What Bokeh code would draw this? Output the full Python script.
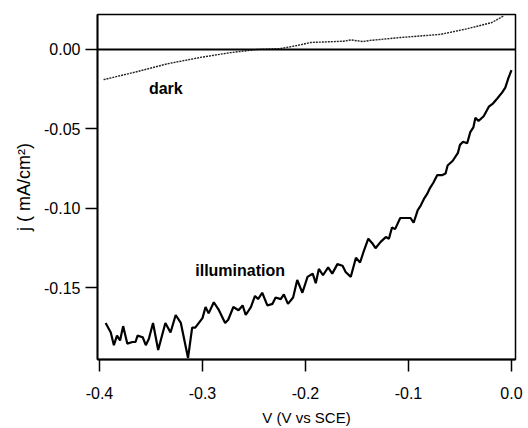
from bokeh.plotting import figure
from bokeh.models import Span, Label, FixedTicker, PrintfTickFormatter, Range1d
from bokeh.embed import file_html
from bokeh.resources import INLINE

# Illumination curve: potential (V vs SCE) and current density (mA/cm2)
ill_v = [-0.394, -0.389, -0.386, -0.383, -0.380, -0.377, -0.373, -0.368, -0.365, -0.363,
         -0.358, -0.355, -0.352, -0.348, -0.343, -0.336, -0.331, -0.326, -0.321, -0.314,
         -0.310, -0.307, -0.300, -0.297, -0.294, -0.289, -0.284, -0.278, -0.275, -0.270,
         -0.265, -0.261, -0.258, -0.253, -0.249, -0.246, -0.242, -0.237, -0.232, -0.229,
         -0.224, -0.221, -0.217, -0.212, -0.208, -0.203, -0.198, -0.193, -0.190, -0.187,
         -0.183, -0.178, -0.174, -0.169, -0.164, -0.161, -0.156, -0.151, -0.147, -0.144,
         -0.139, -0.135, -0.132, -0.127, -0.122, -0.119, -0.116, -0.113, -0.108, -0.103,
         -0.098, -0.095, -0.091, -0.088, -0.085, -0.082, -0.079, -0.076, -0.072, -0.067,
         -0.064, -0.062, -0.057, -0.052, -0.050, -0.047, -0.043, -0.040, -0.037, -0.035,
         -0.032, -0.027, -0.022, -0.018, -0.014, -0.009, -0.006, -0.003, 0.000]
ill_j = [-0.172, -0.178, -0.186, -0.180, -0.183, -0.174, -0.185, -0.184, -0.184, -0.180,
         -0.181, -0.186, -0.182, -0.172, -0.189, -0.172, -0.178, -0.167, -0.172, -0.194,
         -0.175, -0.175, -0.169, -0.162, -0.166, -0.159, -0.164, -0.172, -0.170, -0.162,
         -0.164, -0.161, -0.167, -0.162, -0.155, -0.157, -0.153, -0.161, -0.160, -0.156,
         -0.157, -0.154, -0.160, -0.156, -0.145, -0.153, -0.143, -0.141, -0.147, -0.138,
         -0.142, -0.137, -0.141, -0.135, -0.136, -0.140, -0.143, -0.131, -0.134, -0.128,
         -0.119, -0.122, -0.125, -0.121, -0.118, -0.119, -0.112, -0.113, -0.106, -0.106,
         -0.106, -0.109, -0.101, -0.098, -0.094, -0.091, -0.087, -0.084, -0.079, -0.079,
         -0.078, -0.073, -0.070, -0.065, -0.060, -0.058, -0.059, -0.052, -0.049, -0.043,
         -0.045, -0.042, -0.036, -0.034, -0.031, -0.027, -0.024, -0.018, -0.013]

# Dark curve
dark_v = [-0.396, -0.367, -0.334, -0.302, -0.273, -0.247, -0.224, -0.208, -0.195,
          -0.163, -0.156, -0.144, -0.137, -0.108, -0.069, -0.043, -0.019, -0.008]
dark_j = [-0.019, -0.0145, -0.009, -0.005, -0.002, 0.000, 0.0006, 0.0025, 0.0044,
          0.0052, 0.0060, 0.0050, 0.0057, 0.0075, 0.0095, 0.013, 0.017, 0.021]

x_ticks = [-0.4, -0.3, -0.2, -0.1, 0.0]
y_ticks = [-0.15, -0.10, -0.05, 0.00]

FONT = "Liberation Sans"

p = figure(width=528, height=428, output_backend="svg", toolbar_location=None,
           x_range=Range1d(-0.4019, 0.0039), y_range=Range1d(-0.195, 0.022),
           min_border_left=97, min_border_right=13, min_border_top=14, min_border_bottom=69)

p.background_fill_color = "white"
p.border_fill_color = "white"
p.xgrid.visible = False
p.ygrid.visible = False
p.outline_line_color = "black"
p.outline_line_width = 1.5
p.outline_line_alpha = 1.0

p.line(ill_v, ill_j, line_color="black", line_width=2.2)
p.line(dark_v, dark_j, line_color="#222222", line_width=1.4, line_dash="2 1")

p.add_layout(Span(location=0, dimension="width", line_color="black", line_width=1.8))

p.add_layout(Label(x=-0.352, y=-0.0245, text="dark", text_font=FONT, text_font_size="16px",
                   text_font_style="bold", text_color="black", text_baseline="alphabetic"))
p.add_layout(Label(x=-0.307, y=-0.139, text="illumination", text_font=FONT, text_font_size="16px",
                   text_font_style="bold", text_color="black", text_baseline="alphabetic"))

for ax in (p.xaxis[0], p.yaxis[0]):
    ax.axis_line_color = "black"
    ax.axis_line_width = 1.8
    ax.major_tick_line_color = "black"
    ax.major_tick_line_width = 1.5
    ax.major_tick_in = 0
    ax.major_tick_out = 12
    ax.minor_tick_line_color = None
    ax.major_label_text_font = FONT
    ax.major_label_text_font_size = "16px"
    ax.major_label_text_color = "black"
    ax.axis_label_text_font = FONT
    ax.axis_label_text_font_style = "normal"
    ax.axis_label_text_color = "black"

p.xaxis.ticker = FixedTicker(ticks=x_ticks)
p.xaxis.formatter = PrintfTickFormatter(format="%.1f")
p.xaxis.major_label_standoff = 15
p.xaxis.axis_label = "V (V vs SCE)"
p.xaxis.axis_label_text_font_size = "15px"
p.xaxis.axis_label_standoff = 7

p.yaxis.ticker = FixedTicker(ticks=y_ticks)
p.yaxis.formatter = PrintfTickFormatter(format="%.2f")
p.yaxis.major_label_standoff = 5
p.yaxis.axis_label = "j ( mA/cm²)"
p.yaxis.axis_label_text_font_size = "18px"
p.yaxis.axis_label_standoff = 7

open("out.html", "w").write(file_html(p, INLINE))
